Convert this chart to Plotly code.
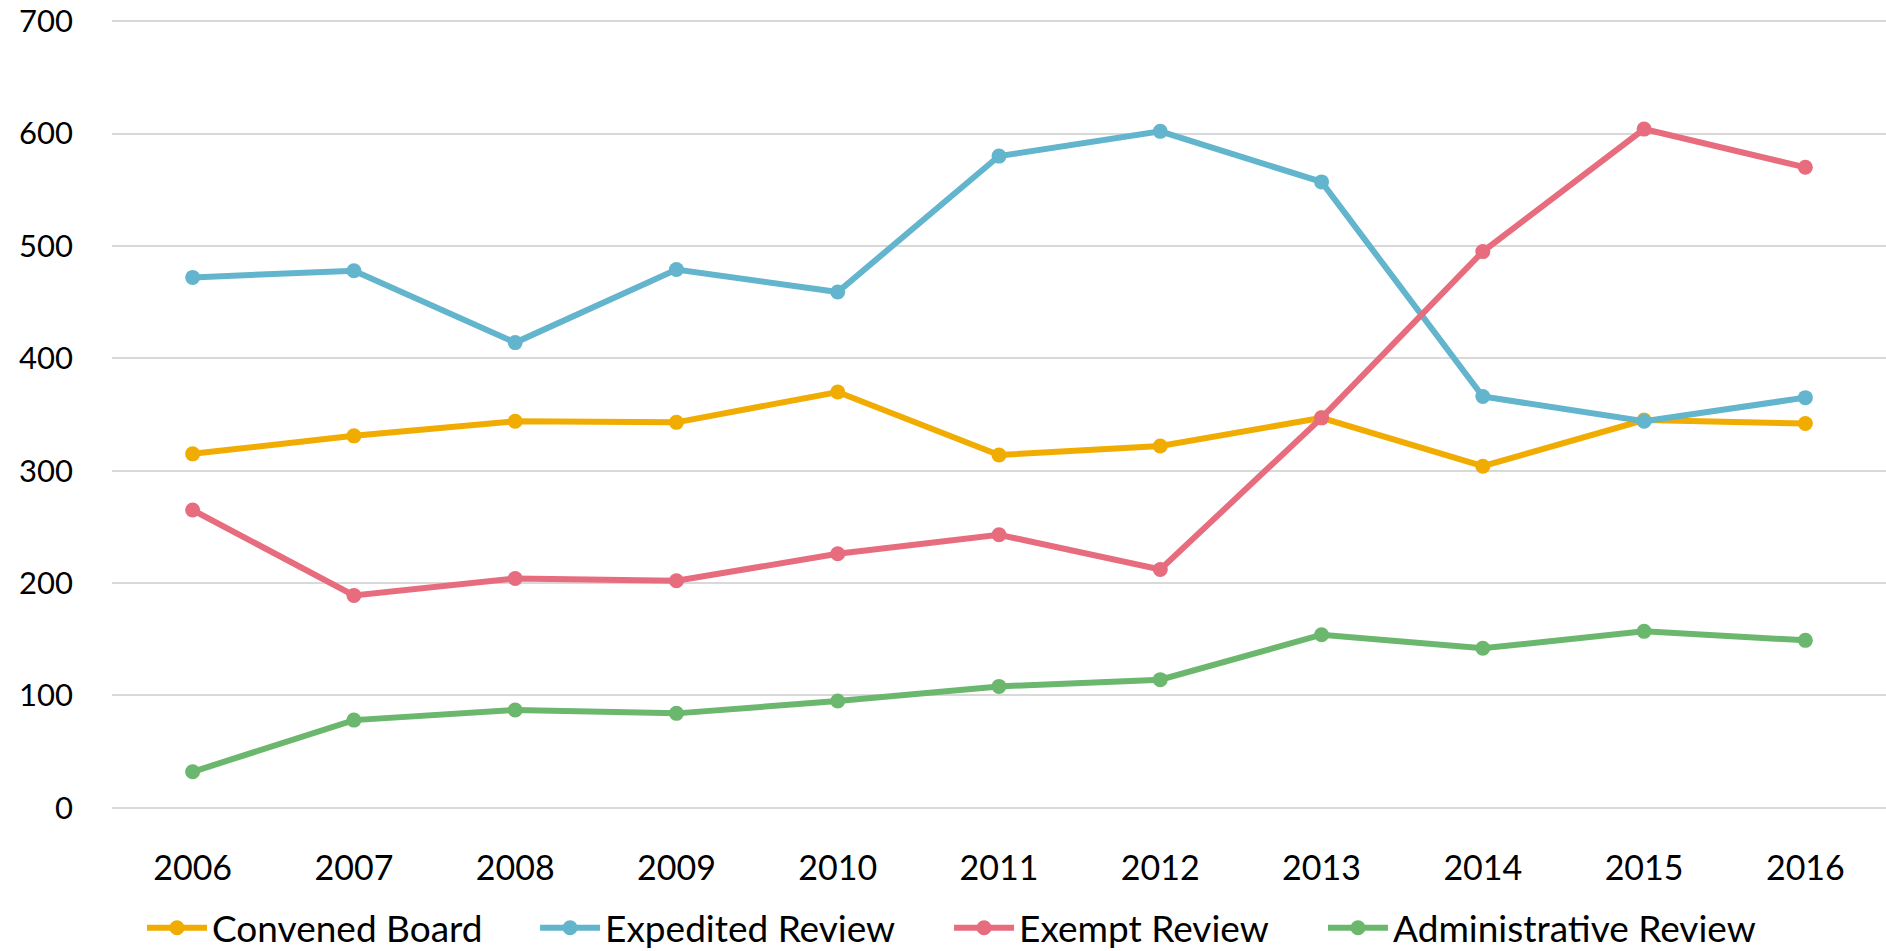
import plotly.graph_objects as go

years = ["2006", "2007", "2008", "2009", "2010", "2011", "2012", "2013", "2014", "2015", "2016"]
convened_board = [315, 331, 344, 343, 370, 314, 322, 347, 304, 345, 342]
expedited_review = [472, 478, 414, 479, 459, 580, 602, 557, 366, 344, 365]
exempt_review = [265, 189, 204, 202, 226, 243, 212, 347, 495, 604, 570]
administrative_review = [32, 78, 87, 84, 95, 108, 114, 154, 142, 157, 149]

series_names = ["Convened Board", "Expedited Review", "Exempt Review", "Administrative Review"]
series_values = [convened_board, expedited_review, exempt_review, administrative_review]
series_colors = ["#F0AC00", "#62B5CC", "#E66C7E", "#6BB76D"]
legend_ids = ["legend", "legend2", "legend3", "legend4"]
legend_x = [0.0753, 0.2837, 0.5032, 0.7015]

FONT = "Lato, 'Open Sans', sans-serif"

fig = go.Figure()
for name, vals, color, lid in zip(series_names, series_values, series_colors, legend_ids):
    fig.add_trace(go.Scatter(
        x=years, y=vals, name=name, mode="lines+markers",
        line=dict(color=color, width=6),
        marker=dict(color=color, size=15),
        legend=lid,
    ))

legend_common = dict(
    orientation="h", xref="container", xanchor="left",
    yref="container", y=0.024, yanchor="middle",
    font=dict(size=37, family=FONT, color="#000000"), itemwidth=60,
    bgcolor="rgba(0,0,0,0)", borderwidth=0,
)

layout_legends = {}
for lid, lx in zip(legend_ids, legend_x):
    layout_legends[lid] = dict(legend_common, x=lx)

fig.update_layout(
    width=1886, height=951,
    paper_bgcolor="white", plot_bgcolor="white",
    margin=dict(l=112, r=0, t=19, b=141),
    font=dict(family=FONT, size=32, color="#000000"),
    showlegend=True,
    xaxis=dict(
        type="category", range=[-0.5, 10.5], showgrid=False, zeroline=False,
        showline=False, ticks="", tickfont=dict(size=34), ticklabelstandoff=35,
        automargin=False,
    ),
    yaxis=dict(
        range=[-2, 702], tickvals=[0, 100, 200, 300, 400, 500, 600, 700],
        showgrid=True, gridcolor="#D9D9D9",
        gridwidth=1.5, zeroline=False, showline=False, ticks="",
        tickfont=dict(size=31), ticklabelstandoff=38, automargin=False,
        ticklabeloverflow="allow",
    ),
    **layout_legends,
)

fig.write_html(
    "out.html",
    config={"displayModeBar": False},
    post_script="document.body.style.margin='0';document.body.style.overflow='hidden';",
)
